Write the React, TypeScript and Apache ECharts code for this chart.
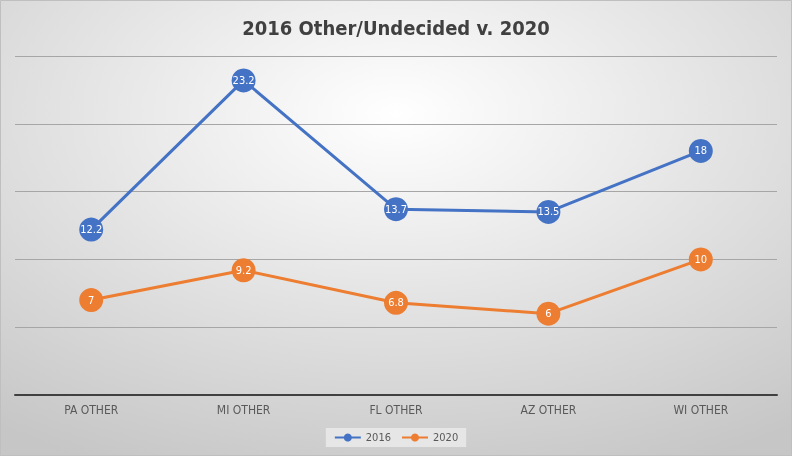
import React, { useEffect, useRef } from "react";
import * as echarts from "echarts";

const categories = ["PA OTHER", "MI OTHER", "FL OTHER", "AZ OTHER", "WI OTHER"];
const values2016 = [12.2, 23.2, 13.7, 13.5, 18];
const values2020 = [7, 9.2, 6.8, 6, 10];
const seriesNames = ["2016", "2020"];
const titleText = "2016 Other/Undecided v. 2020";

const FONT = "'Liberation Sans Narrow', 'DejaVu Sans Condensed', 'Liberation Sans', sans-serif";

export default function App() {
  const ref = useRef<HTMLDivElement>(null);
  useEffect(() => {
    if (!ref.current) return;
    const chart = echarts.init(ref.current, undefined, { renderer: "svg" });
    const mkSeries = (name: string, data: number[], color: string) => ({
      name,
      type: "line",
      data,
      symbol: "circle",
      symbolSize: 24,
      lineStyle: { width: 3, color },
      itemStyle: { color },
      label: {
        show: true,
        position: "inside",
        color: "#ffffff",
        fontSize: 11,
        fontFamily: FONT,
      },
    });
    chart.setOption({
      animation: false,
      backgroundColor: {
        type: "radial",
        x: 0.5,
        y: 0.25,
        r: 0.85,
        colorStops: [
          { offset: 0, color: "#ffffff" },
          { offset: 1, color: "#c6c6c6" },
        ],
      },
      graphic: [
        {
          type: "rect",
          shape: { x: 0.5, y: 0.5, width: 791, height: 455 },
          style: { fill: "none", stroke: "#bfbfbf", lineWidth: 1 },
          silent: true,
        },
      ],
      title: {
        text: titleText,
        left: "center",
        top: 13,
        textStyle: { fontFamily: FONT, fontSize: 20, fontWeight: "bold", color: "#404040" },
      },
      grid: { left: 15, right: 15, top: 56, bottom: 61, containLabel: false },
      legend: {
        data: seriesNames,
        bottom: 9,
        left: "center",
        itemWidth: 26,
        itemHeight: 10,
        itemGap: 10,
        padding: [4, 8],
        backgroundColor: "#e6e6e6",
        textStyle: { fontFamily: FONT, fontSize: 11, color: "#595959" },
      },
      xAxis: {
        type: "category",
        data: categories,
        boundaryGap: true,
        axisLine: { lineStyle: { color: "#404040", width: 2 } },
        axisTick: { show: false },
        axisLabel: { fontFamily: FONT, fontSize: 12, color: "#595959", margin: 9 },
      },
      yAxis: {
        type: "value",
        min: 0,
        max: 25,
        interval: 5,
        axisLabel: { show: false },
        axisLine: { show: false },
        axisTick: { show: false },
        splitLine: { lineStyle: { color: "#a6a6a6", width: 1 } },
      },
      series: [
        mkSeries(seriesNames[0], values2016, "#4472C4"),
        mkSeries(seriesNames[1], values2020, "#ED7D31"),
      ],
    });
    return () => chart.dispose();
  }, []);
  return (
    <div ref={ref} style={{ position: "fixed", left: 0, top: 0, width: 792, height: 456 }} />
  );
}
